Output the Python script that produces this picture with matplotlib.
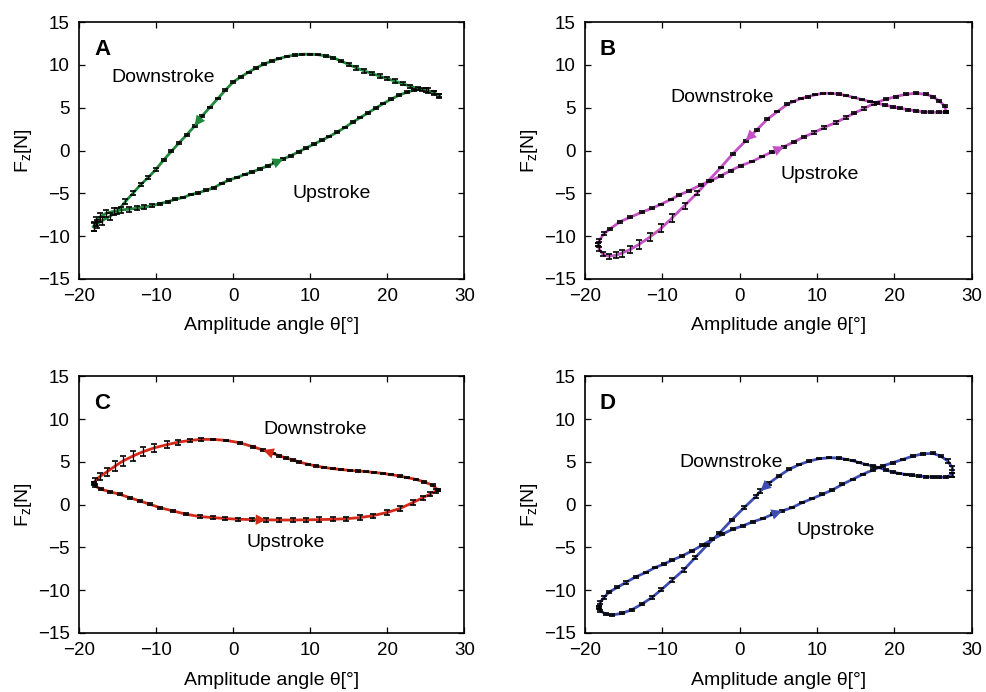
import matplotlib
matplotlib.use("Agg")
from matplotlib import pyplot as plt

plt.rcParams['font.family'] = ['Liberation Sans', 'DejaVu Sans']
plt.rcParams['mathtext.fontset'] = 'custom'
plt.rcParams['mathtext.rm'] = 'Liberation Sans'
plt.rcParams['mathtext.it'] = 'Liberation Sans'

# ---- panel A ----
a_down_theta = [26.7, 26.0, 25.0, 24.0, 23.0, 22.0, 21.0, 20.0, 19.0, 18.0, 17.0, 16.0, 15.0, 14.0,
                13.0, 12.0, 11.0, 10.0, 9.0, 8.0, 7.0, 6.0, 5.0, 4.0, 3.0, 2.0, 1.0, 0.0, -1.0, -2.0,
                -3.0, -4.0, -5.0, -6.0, -7.0, -8.0, -9.0, -10.0, -11.0, -12.0, -13.0, -14.0, -15.0,
                -16.0, -17.0, -17.7, -18.1]
a_down_fz = [6.4, 6.8, 7.05, 7.25, 7.5, 7.8, 8.1, 8.4, 8.7, 9.0, 9.3, 9.65, 10.05, 10.45,
             10.85, 11.05, 11.2, 11.25, 11.25, 11.15, 11.0, 10.75, 10.45, 10.1, 9.65, 9.15, 8.6, 8.0,
             7.05, 6.05, 5.05, 4.05, 2.85, 1.85, 0.9, -0.1, -1.1, -2.2, -3.15, -4.0, -5.0, -6.0, -7.1,
             -7.7, -8.2, -8.6, -8.9]
a_down_err = [0.2, 0.2, 0.2, 0.2, 0.2, 0.2, 0.2, 0.2, 0.2, 0.2, 0.2, 0.2, 0.15, 0.15,
              0.1, 0.1, 0.08, 0.08, 0.08, 0.08, 0.08, 0.08, 0.08, 0.08, 0.08, 0.08, 0.08, 0.08,
              0.08, 0.08, 0.08, 0.08, 0.1, 0.1, 0.12, 0.12, 0.15, 0.15, 0.2, 0.2, 0.25, 0.3, 0.35,
              0.4, 0.45, 0.45, 0.45]
a_up_theta = [-18.1, -17.8, -17.3, -16.5, -15.5, -14.5, -13.5, -12.5, -11.5, -10.5, -9.5, -8.5, -7.5,
              -6.5, -5.5, -4.5, -3.5, -2.5, -1.5, -0.5, 0.5, 1.5, 2.5, 3.5, 4.5, 5.5, 6.5, 7.5, 8.5,
              9.5, 10.5, 11.5, 12.5, 13.5, 14.5, 15.5, 16.5, 17.5, 18.5, 19.5, 20.5, 21.5, 22.5,
              23.5, 24.5, 25.3, 26.0, 26.7]
a_up_fz = [-8.9, -8.3, -7.8, -7.35, -7.1, -6.95, -6.85, -6.75, -6.6, -6.45, -6.2, -6.0, -5.7,
           -5.5, -5.15, -4.95, -4.65, -4.35, -3.85, -3.45, -3.15, -2.8, -2.5, -2.15, -1.8, -1.4, -1.0,
           -0.6, -0.15, 0.3, 0.75, 1.2, 1.65, 2.15, 2.7, 3.3, 3.85, 4.4, 4.95, 5.5, 6.0, 6.45, 6.8,
           7.05, 7.15, 7.0, 6.7, 6.4]
a_up_err = [0.5, 0.5, 0.5, 0.45, 0.4, 0.35, 0.3, 0.25, 0.2, 0.15, 0.12, 0.1, 0.1,
            0.1, 0.1, 0.1, 0.1, 0.1, 0.1, 0.1, 0.1, 0.1, 0.1, 0.1, 0.1, 0.1, 0.1,
            0.1, 0.1, 0.1, 0.1, 0.1, 0.1, 0.1, 0.1, 0.1, 0.1, 0.1, 0.1, 0.1, 0.1,
            0.1, 0.1, 0.15, 0.2, 0.25, 0.25, 0.25]

# ---- panel B ----
b_down_theta = [26.7, 25.8, 24.8, 23.8, 22.8, 21.8, 20.8, 19.8, 18.8, 17.8, 16.8, 15.8, 14.8, 13.8,
                12.8, 11.8, 10.8, 9.8, 8.8, 7.9, 6.9, 6.2, 4.9, 3.6, 2.2, 0.8, -0.9, -2.4, -4.0,
                -5.5, -7.1, -8.7, -10.1, -11.6, -13.0, -14.1, -15.2, -16.0, -16.9, -17.7, -18.15,
                -18.25]
b_down_fz = [4.5, 4.45, 4.47, 4.52, 4.62, 4.78, 4.92, 5.1, 5.32, 5.52, 5.73, 5.95, 6.2, 6.42,
             6.6, 6.69, 6.68, 6.52, 6.27, 6.07, 5.7, 5.41, 4.55, 3.66, 2.38, 1.14, -0.42, -1.97,
             -3.52, -5.0, -6.44, -7.87, -9.08, -10.13, -10.98, -11.56, -11.99, -12.26, -12.34,
             -12.07, -11.5, -11.0]
b_down_err = [0.12, 0.12, 0.12, 0.12, 0.12, 0.12, 0.12, 0.12, 0.12, 0.12, 0.1, 0.1, 0.08, 0.08,
              0.08, 0.08, 0.08, 0.08, 0.08, 0.08, 0.08, 0.1, 0.1, 0.1, 0.1, 0.1, 0.08, 0.08, 0.12,
              0.25, 0.35, 0.45, 0.5, 0.5, 0.5, 0.45, 0.4, 0.35, 0.3, 0.25, 0.2, 0.2]
b_up_theta = [-18.25, -18.1, -17.5, -16.7, -15.4, -14.1, -12.6, -11.3, -10.2, -8.9, -7.8, -6.5, -5.0,
              -3.7, -2.4, -1.15, 0.15, 1.66, 2.95, 4.25, 5.76, 7.05, 8.34, 9.64, 10.93, 12.44, 13.74,
              14.81, 16.1, 17.4, 18.9, 20.2, 21.5, 22.8, 24.1, 25.0, 25.8, 26.5, 26.7]
b_up_fz = [-11.0, -10.5, -9.7, -9.15, -8.3, -7.8, -7.2, -6.75, -6.3, -5.74, -5.2, -4.7, -4.03,
           -3.52, -2.94, -2.36, -1.78, -1.27, -0.69, -0.15, 0.45, 1.02, 1.6, 2.1, 2.69, 3.27, 3.85,
           4.36, 4.9, 5.52, 5.99, 6.3, 6.57, 6.69, 6.57, 6.3, 5.8, 5.21, 4.5]
b_up_err = [0.2, 0.2, 0.15, 0.15, 0.12, 0.12, 0.1, 0.1, 0.1, 0.1, 0.1, 0.1, 0.1,
            0.1, 0.1, 0.1, 0.1, 0.1, 0.1, 0.1, 0.12, 0.12, 0.15, 0.15, 0.15, 0.15, 0.15,
            0.15, 0.15, 0.15, 0.12, 0.12, 0.12, 0.12, 0.12, 0.12, 0.12, 0.12, 0.12]

# ---- panel C ----
c_down_theta = [26.6, 25.9, 24.8, 23.7, 22.6, 21.6, 20.5, 19.4, 18.3, 17.3, 16.2, 15.1, 14.0, 12.9,
                11.8, 10.8, 9.7, 8.6, 7.8, 6.9, 6.0, 5.2, 3.9, 2.6, 0.85, -0.87, -2.6, -4.1, -5.6,
                -7.1, -8.6, -10.2, -11.7, -13.0, -14.3, -15.3, -16.4, -17.3, -17.9, -18.1]
c_down_fz = [1.7, 2.25, 2.65, 2.95, 3.15, 3.34, 3.5, 3.65, 3.76, 3.85, 3.93, 4.0, 4.1, 4.2,
             4.35, 4.5, 4.72, 4.97, 5.2, 5.44, 5.7, 5.98, 6.37, 6.76, 7.23, 7.5, 7.62, 7.62, 7.5,
             7.3, 7.0, 6.64, 6.18, 5.67, 5.09, 4.5, 3.81, 3.26, 2.76, 2.5]
c_down_err = [0.12, 0.12, 0.1, 0.1, 0.08, 0.08, 0.08, 0.08, 0.08, 0.08, 0.08, 0.08, 0.08, 0.08,
              0.08, 0.08, 0.08, 0.08, 0.08, 0.08, 0.1, 0.1, 0.1, 0.1, 0.1, 0.1, 0.1, 0.15, 0.2,
              0.3, 0.4, 0.5, 0.55, 0.6, 0.6, 0.6, 0.5, 0.4, 0.3, 0.2]
c_up_theta = [-18.1, -17.9, -17.1, -16.0, -14.7, -13.4, -12.1, -10.8, -9.5, -7.8, -6.05, -4.3, -2.6,
              -1.0, 0.7, 2.5, 4.3, 6.0, 7.8, 9.5, 11.2, 12.9, 14.7, 16.4, 18.1, 19.9, 21.6, 23.3,
              24.6, 25.5, 26.3, 26.6]
c_up_fz = [2.5, 2.17, 1.79, 1.51, 1.2, 0.81, 0.43, 0.04, -0.35, -0.74, -1.13, -1.4, -1.52,
           -1.63, -1.71, -1.75, -1.78, -1.8, -1.8, -1.78, -1.75, -1.72, -1.65, -1.52, -1.3, -0.93,
           -0.47, 0.23, 0.81, 1.2, 1.6, 1.7]
c_up_err = [0.15, 0.15, 0.12, 0.12, 0.12, 0.12, 0.12, 0.12, 0.12, 0.12, 0.12, 0.15, 0.15,
            0.2, 0.2, 0.2, 0.2, 0.25, 0.25, 0.25, 0.25, 0.25, 0.25, 0.25, 0.25, 0.25, 0.25, 0.25,
            0.25, 0.25, 0.2, 0.15]

# ---- panel D ----
d_down_theta = [27.5, 26.7, 25.8, 25.0, 24.1, 23.2, 22.3, 21.5, 20.6, 19.8, 18.9, 18.05, 17.2, 16.3,
                15.4, 14.6, 13.7, 12.9, 11.6, 10.3, 9.0, 7.7, 6.4, 5.1, 3.8, 2.7, 2.1, 0.6, -1.0,
                -2.6, -4.2, -5.7, -7.2, -8.7, -10.1, -11.3, -12.6, -13.9, -15.2, -16.5, -17.3, -18.0,
                -18.1]
d_down_fz = [3.5, 3.22, 3.2, 3.22, 3.27, 3.34, 3.43, 3.53, 3.65, 3.81, 4.05, 4.31, 4.5, 4.7,
             4.93, 5.13, 5.3, 5.44, 5.48, 5.36, 5.09, 4.66, 4.12, 3.34, 2.49, 1.59, 0.93, -0.35,
             -1.79, -3.34, -4.74, -6.18, -7.62, -8.82, -9.95, -10.84, -11.62, -12.28, -12.71,
             -12.9, -12.79, -12.4, -12.0]
d_down_err = [0.25, 0.15, 0.12, 0.12, 0.12, 0.1, 0.1, 0.1, 0.1, 0.1, 0.08, 0.08, 0.08, 0.08,
              0.08, 0.08, 0.08, 0.08, 0.08, 0.08, 0.08, 0.08, 0.1, 0.15, 0.2, 0.2, 0.2, 0.15, 0.15,
              0.15, 0.15, 0.2, 0.25, 0.25, 0.2, 0.15, 0.15, 0.12, 0.12, 0.12, 0.12, 0.12, 0.12]
d_up_theta = [-18.1, -18.0, -17.5, -16.9, -15.8, -14.7, -13.4, -12.1, -10.9, -9.8, -8.7, -7.4, -6.1,
              -4.8, -3.5, -2.2, -0.9, 0.4, 1.7, 3.0, 4.3, 5.5, 6.8, 8.1, 9.4, 10.7, 12.0, 13.3, 14.6,
              15.9, 17.2, 18.5, 19.8, 21.1, 22.4, 23.7, 25.0, 26.0, 26.9, 27.5, 27.5]
d_up_fz = [-12.0, -11.43, -10.84, -10.26, -9.68, -9.1, -8.44, -7.93, -7.35, -6.96, -6.49, -5.99,
           -5.4, -4.74, -4.04, -3.46, -2.88, -2.49, -2.02, -1.63, -1.13, -0.74, -0.35, 0.23, 0.7,
           1.2, 1.71, 2.37, 2.95, 3.53, 4.04, 4.51, 4.9, 5.28, 5.67, 5.94, 5.98, 5.67, 5.09, 4.31,
           3.5]
d_up_err = [0.15, 0.15, 0.15, 0.12, 0.12, 0.12, 0.1, 0.1, 0.1, 0.1, 0.1, 0.1, 0.1,
            0.1, 0.1, 0.1, 0.1, 0.1, 0.1, 0.1, 0.1, 0.1, 0.1, 0.1, 0.1, 0.1, 0.1,
            0.1, 0.1, 0.1, 0.1, 0.1, 0.1, 0.1, 0.1, 0.1, 0.12, 0.15, 0.2, 0.25, 0.25]

panels = [
    dict(letter='A', color='#1f8a3b', pos=[0.080, 0.597, 0.391, 0.371],
         down=(a_down_theta, a_down_fz, a_down_err), up=(a_up_theta, a_up_fz, a_up_err),
         down_arrow=31, up_arrow=25, down_txt=(-9.1, 8.5), up_txt=(12.8, -5.0)),
    dict(letter='B', color='#c452c4', pos=[0.593, 0.597, 0.3925, 0.371],
         down=(b_down_theta, b_down_fz, b_down_err), up=(b_up_theta, b_up_fz, b_up_err),
         down_arrow=24, up_arrow=19, down_txt=(-2.2, 6.25), up_txt=(10.4, -2.85)),
    dict(letter='C', color='#d42a18', pos=[0.080, 0.0853, 0.391, 0.371],
         down=(c_down_theta, c_down_fz, c_down_err), up=(c_up_theta, c_up_fz, c_up_err),
         down_arrow=21, up_arrow=15, down_txt=(10.7, 8.8), up_txt=(6.8, -4.4)),
    dict(letter='D', color='#3e4db3', pos=[0.593, 0.0853, 0.3925, 0.371],
         down=(d_down_theta, d_down_fz, d_down_err), up=(d_up_theta, d_up_fz, d_up_err),
         down_arrow=24, up_arrow=20, down_txt=(-1.1, 4.96), up_txt=(12.4, -3.0)),
]

fig = plt.figure(figsize=(9.86, 6.92), dpi=100)

for p in panels:
    ax = fig.add_axes(p['pos'])
    c = p['color']
    for key, idx_key in (('down', 'down_arrow'), ('up', 'up_arrow')):
        th, fz, err = p[key]
        ax.plot(th, fz, color=c, lw=2.0, zorder=2)
        ax.errorbar(th, fz, yerr=err, fmt='none', ecolor='black', elinewidth=0.9,
                    capsize=2.5, capthick=1.2, zorder=3)
        i = p[idx_key]
        ax.annotate('', xy=(th[i + 1], fz[i + 1]), xytext=(th[i], fz[i]),
                    arrowprops=dict(arrowstyle='-|>', color=c, lw=0, mutation_scale=19,
                                    shrinkA=0, shrinkB=0), zorder=4)

    ax.text(*p['down_txt'], 'Downstroke', fontsize=14, ha='center', va='center')
    ax.text(*p['up_txt'], 'Upstroke', fontsize=14, ha='center', va='center')
    ax.text(0.06, 0.895, p['letter'], transform=ax.transAxes, fontsize=16,
            fontweight='bold', ha='center', va='center')

    ax.set_xlim(-20, 30)
    ax.set_ylim(-15, 15)
    ax.set_xticks([-20, -10, 0, 10, 20, 30])
    ax.set_yticks([-15, -10, -5, 0, 5, 10, 15])
    ax.tick_params(direction='in', top=True, right=True, length=4, width=0.9,
                   labelsize=13.5, pad=6.5)
    for s in ax.spines.values():
        s.set_linewidth(1.2)
    ax.set_xlabel('Amplitude angle θ[°]', fontsize=14, labelpad=9)
    ax.set_ylabel(r'F$_\mathrm{z}$[N]', fontsize=14, labelpad=3)

fig.savefig('out.png', dpi=100)
